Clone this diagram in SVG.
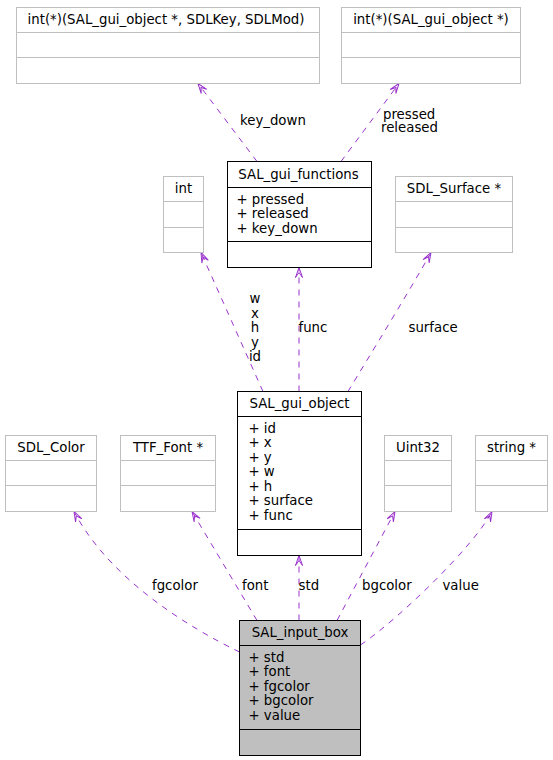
<svg xmlns="http://www.w3.org/2000/svg" width="553" height="760" viewBox="0 0 553 760">
<style>
text{font-family:"DejaVu Sans","Liberation Sans",sans-serif;font-size:13.3px;fill:#000}
.t{text-anchor:middle}
.g{fill:#fff;stroke:#bfbfbf;stroke-width:1}
.b{fill:#fff;stroke:#000;stroke-width:1}
.s{fill:#bfbfbf;stroke:#000;stroke-width:1}
.gl{stroke:#bfbfbf;stroke-width:1}
.bl{stroke:#000;stroke-width:1}
.e{fill:none;stroke:#9a32cd;stroke-width:1;stroke-dasharray:6,6;marker-end:url(#v)}
</style>
<defs>
<marker id="v" markerUnits="userSpaceOnUse" viewBox="-12 -6 13 12" refX="0" refY="0" markerWidth="13" markerHeight="12" orient="auto">
<path d="M0,0 L-10,-3.5 L-5,0 L-10,3.5 Z" fill="none" stroke="#9a32cd" stroke-width="1"/>
</marker>
</defs>
<g id="connectors">
<path class="e" d="M257,161.5 L198,83.5"/>
<path class="e" d="M341,161.5 L399,83.5"/>
<path class="e" d="M263,391.5 L201,252.5"/>
<path class="e" d="M299,391.5 L299,267.5"/>
<path class="e" d="M348,391.5 C370,355 410,290 431,252.5"/>
<path class="e" d="M299,620.5 L299,555.5"/>
<path class="e" d="M239.5,652 C190,628 110,580 74,511.5"/>
<path class="e" d="M257,620.5 L192,511.5"/>
<path class="e" d="M337,620.5 L395,511.5"/>
<path class="e" d="M360.5,645 C400,618 475,545 492,511.5"/>
<text x="240" y="124.5">key_down</text>
<text x="383" y="118.5">pressed</text>
<text x="381" y="132">released</text>
<text class="t" x="255" y="303">w</text>
<text class="t" x="255" y="317.5">x</text>
<text class="t" x="255" y="332">h</text>
<text class="t" x="255" y="346.5">y</text>
<text class="t" x="255" y="361">id</text>
<text x="298.5" y="332">func</text>
<text x="408.5" y="332">surface</text>
<text x="152" y="590">fgcolor</text>
<text x="242" y="590">font</text>
<text x="298.5" y="590">std</text>
<text x="362" y="590">bgcolor</text>
<text x="442.5" y="590">value</text>
</g>
<g id="fn_keydown">
<rect class="g" x="16.5" y="7.5" width="303" height="76"/>
<line class="gl" x1="16.5" y1="32.5" x2="319.5" y2="32.5"/>
<line class="gl" x1="16.5" y1="57.5" x2="319.5" y2="57.5"/>
<text class="t" x="166" y="24">int(*)(SAL_gui_object *, SDLKey, SDLMod)</text>
</g>
<g id="fn_pressed">
<rect class="g" x="341.5" y="7.5" width="179" height="76"/>
<line class="gl" x1="341.5" y1="32.5" x2="520.5" y2="32.5"/>
<line class="gl" x1="341.5" y1="57.5" x2="520.5" y2="57.5"/>
<text class="t" x="431" y="24">int(*)(SAL_gui_object *)</text>
</g>
<g id="int">
<rect class="g" x="163.5" y="176.5" width="40" height="76"/>
<line class="gl" x1="163.5" y1="201.5" x2="203.5" y2="201.5"/>
<line class="gl" x1="163.5" y1="227.5" x2="203.5" y2="227.5"/>
<text class="t" x="183.5" y="193">int</text>
</g>
<g id="SAL_gui_functions">
<rect class="b" x="227.5" y="161.5" width="144" height="106"/>
<line class="bl" x1="227.5" y1="187.5" x2="371.5" y2="187.5"/>
<line class="bl" x1="227.5" y1="241.5" x2="371.5" y2="241.5"/>
<text class="t" x="298.5" y="178.5">SAL_gui_functions</text>
<text x="236.5" y="203.5">+ pressed</text>
<text x="236.5" y="218">+ released</text>
<text x="236.5" y="232.5">+ key_down</text>
</g>
<g id="SDL_Surface">
<rect class="g" x="395.5" y="176.5" width="117" height="76"/>
<line class="gl" x1="395.5" y1="201.5" x2="512.5" y2="201.5"/>
<line class="gl" x1="395.5" y1="227.5" x2="512.5" y2="227.5"/>
<text class="t" x="454" y="193">SDL_Surface *</text>
</g>
<g id="SAL_gui_object">
<rect class="b" x="237.5" y="391.5" width="124" height="164"/>
<line class="bl" x1="237.5" y1="416.5" x2="361.5" y2="416.5"/>
<line class="bl" x1="237.5" y1="529.5" x2="361.5" y2="529.5"/>
<text class="t" x="299.5" y="408">SAL_gui_object</text>
<text x="248.5" y="432.5">+ id</text>
<text x="248.5" y="447">+ x</text>
<text x="248.5" y="461.5">+ y</text>
<text x="248.5" y="476">+ w</text>
<text x="248.5" y="490.5">+ h</text>
<text x="248.5" y="505">+ surface</text>
<text x="248.5" y="519.5">+ func</text>
</g>
<g id="SDL_Color">
<rect class="g" x="5.5" y="435.5" width="91" height="76"/>
<line class="gl" x1="5.5" y1="460.5" x2="96.5" y2="460.5"/>
<line class="gl" x1="5.5" y1="485.5" x2="96.5" y2="485.5"/>
<text class="t" x="51" y="452">SDL_Color</text>
</g>
<g id="TTF_Font">
<rect class="g" x="120.5" y="435.5" width="95" height="76"/>
<line class="gl" x1="120.5" y1="460.5" x2="215.5" y2="460.5"/>
<line class="gl" x1="120.5" y1="485.5" x2="215.5" y2="485.5"/>
<text class="t" x="168" y="452">TTF_Font *</text>
</g>
<g id="Uint32">
<rect class="g" x="384.5" y="435.5" width="67" height="76"/>
<line class="gl" x1="384.5" y1="460.5" x2="451.5" y2="460.5"/>
<line class="gl" x1="384.5" y1="485.5" x2="451.5" y2="485.5"/>
<text class="t" x="418" y="452">Uint32</text>
</g>
<g id="string">
<rect class="g" x="475.5" y="435.5" width="72" height="76"/>
<line class="gl" x1="475.5" y1="460.5" x2="547.5" y2="460.5"/>
<line class="gl" x1="475.5" y1="485.5" x2="547.5" y2="485.5"/>
<text class="t" x="511.5" y="452">string *</text>
</g>
<g id="SAL_input_box">
<rect class="s" x="239.5" y="620.5" width="121" height="135"/>
<line class="bl" x1="239.5" y1="645.5" x2="360.5" y2="645.5"/>
<line class="bl" x1="239.5" y1="729.5" x2="360.5" y2="729.5"/>
<text class="t" x="300" y="637">SAL_input_box</text>
<text x="248.5" y="661.5">+ std</text>
<text x="248.5" y="676">+ font</text>
<text x="248.5" y="690.5">+ fgcolor</text>
<text x="248.5" y="705">+ bgcolor</text>
<text x="248.5" y="719.5">+ value</text>
</g>
</svg>
